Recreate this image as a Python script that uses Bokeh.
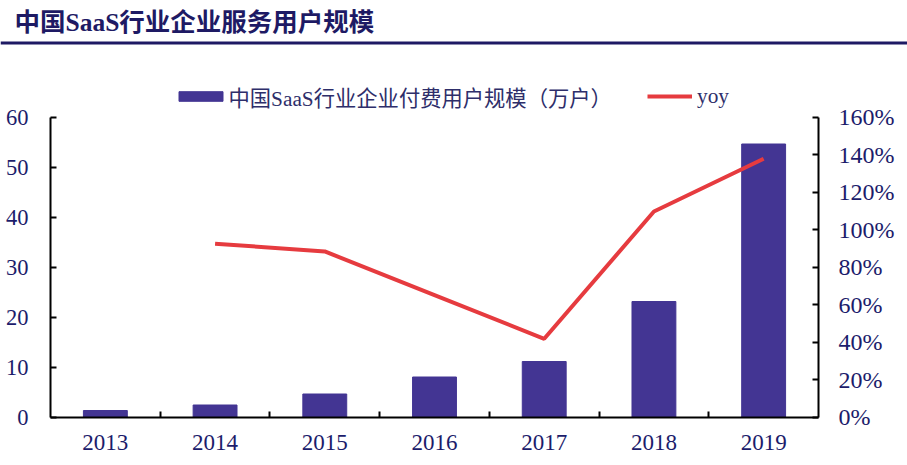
from bokeh.plotting import figure
from bokeh.models import (ColumnDataSource, Range1d, LinearAxis, FixedTicker,
                          Legend, LegendItem, Label, Span)
from bokeh.embed import file_html
from bokeh.resources import INLINE

# ---------------- data ----------------
years = ["2013", "2014", "2015", "2016", "2017", "2018", "2019"]
users = [1.3, 2.4, 4.6, 8.0, 11.1, 23.1, 54.6]              # 万户
yoy = [float("nan"), 92.4, 88.3, 65.0, 41.7, 109.6, 137.7]  # %
left_ticks = [0, 10, 20, 30, 40, 50, 60]
right_ticks = [0, 20, 40, 60, 80, 100, 120, 140, 160]

title_text = "中国SaaS行业企业服务用户规模"
bar_label = "中国SaaS行业企业付费用户规模（万户）"
line_label = "yoy"

NAVY = "#1e1a64"
TICK_COL = "#1c1c6b"
BAR_COL = "#433593"
LINE_COL = "#e63b3f"
SERIF = "'Liberation Serif', 'Noto Sans CJK SC', serif"

# ---------------- layout (pixels) ----------------
W, H = 907, 465
PX_L, PX_R = 50, 818          # plot area left / right
PX_Y0, PX_Y60 = 416.5, 116.5  # pixel rows of value 0 and 60
n = len(years)
kx = (PX_R - PX_L) / n
ky = (PX_Y0 - PX_Y60) / 60.0
ky2 = (PX_Y0 - PX_Y60) / 160.0

x_start, x_end = -PX_L / kx, n + (W - PX_R) / kx
y_start, y_end = -(H - PX_Y0) / ky, PX_Y0 / ky
y2_start, y2_end = -(H - PX_Y0) / ky2, PX_Y0 / ky2

xs = [i + 0.5 for i in range(n)]

p = figure(width=W, height=H, x_range=Range1d(x_start, x_end),
           y_range=Range1d(y_start, y_end),
           output_backend="svg", toolbar_location=None,
           min_border_left=0, min_border_right=0,
           min_border_top=0, min_border_bottom=0)
p.extra_y_ranges = {"pct": Range1d(y2_start, y2_end)}
p.grid.visible = False
p.outline_line_color = None
p.background_fill_color = "white"
p.border_fill_color = "white"

src = ColumnDataSource(dict(x=xs, users=users, yoy=yoy, year=years))
bars = p.vbar(x="x", top="users", width=0.4, source=src, fill_color=BAR_COL,
              line_color=BAR_COL)
ln = p.line(x="x", y="yoy", source=src, line_color=LINE_COL, line_width=4,
            y_range_name="pct")

def style_axis(ax, size):
    ax.axis_line_color = "black"
    ax.axis_line_width = 2
    ax.major_tick_line_color = "black"
    ax.major_tick_line_width = 2
    ax.minor_tick_line_color = "black"
    ax.minor_tick_line_width = 2
    ax.major_label_text_font = SERIF
    ax.major_label_text_font_size = size
    ax.major_label_text_color = TICK_COL

# x axis
xa = p.xaxis[0]
xa.fixed_location = 0
xa.bounds = (0, n)
xa.ticker = FixedTicker(ticks=xs, minor_ticks=list(range(1, n)))
xa.major_label_overrides = {x: y for x, y in zip(xs, years)}
style_axis(xa, "23px")
xa.major_tick_in = 0
xa.major_tick_out = 0
xa.minor_tick_in = 6
xa.minor_tick_out = 0
xa.major_label_standoff = 18

# left axis
ya = p.yaxis[0]
ya.fixed_location = 0
ya.ticker = FixedTicker(ticks=left_ticks)
ya.bounds = (0, 60)
style_axis(ya, "22.5px")
ya.major_tick_in = 6
ya.major_tick_out = 0
ya.minor_tick_in = 0
ya.minor_tick_out = 0
ya.major_label_standoff = 22

# right axis
ra = LinearAxis(y_range_name="pct", ticker=FixedTicker(ticks=right_ticks),
                bounds=(0, 160), fixed_location=n)
ra.major_label_overrides = {t: f"{t}%" for t in right_ticks}
style_axis(ra, "24px")
ra.major_tick_in = 6
ra.major_tick_out = 0
ra.minor_tick_in = 0
ra.minor_tick_out = 0
ra.major_label_standoff = 20
p.add_layout(ra, "right")

# legends (two, so each swatch can have its own width)
leg_common = dict(orientation="horizontal", padding=0, margin=0,
                  border_line_color=None, background_fill_alpha=0,
                  label_text_font=SERIF, label_text_font_size="21.3px",
                  label_text_color="#2e2e6a", label_height=32, glyph_height=12)
leg1 = Legend(items=[LegendItem(label=bar_label, renderers=[bars])],
              location=(172.5, H - 96 - 16), glyph_width=55, label_standoff=1,
              **leg_common)
leg2 = Legend(items=[LegendItem(label=line_label, renderers=[ln])],
              location=(647, H - 96 - 16), glyph_width=45, label_standoff=5,
              **leg_common)
p.add_layout(leg1, "center")
p.add_layout(leg2, "center")

# title and rule
p.add_layout(Label(x=14, y=H - 22, x_units="screen", y_units="screen",
                   text=title_text, text_font=SERIF,
                   text_font_size="25.5px", text_font_style="bold", text_color=NAVY,
                   text_baseline="middle", text_align="left"))
p.add_layout(Span(location=H - 42.5, location_units="screen", dimension="width",
                  line_color=NAVY, line_width=3))

open("out.html", "w").write(file_html(p, INLINE))
